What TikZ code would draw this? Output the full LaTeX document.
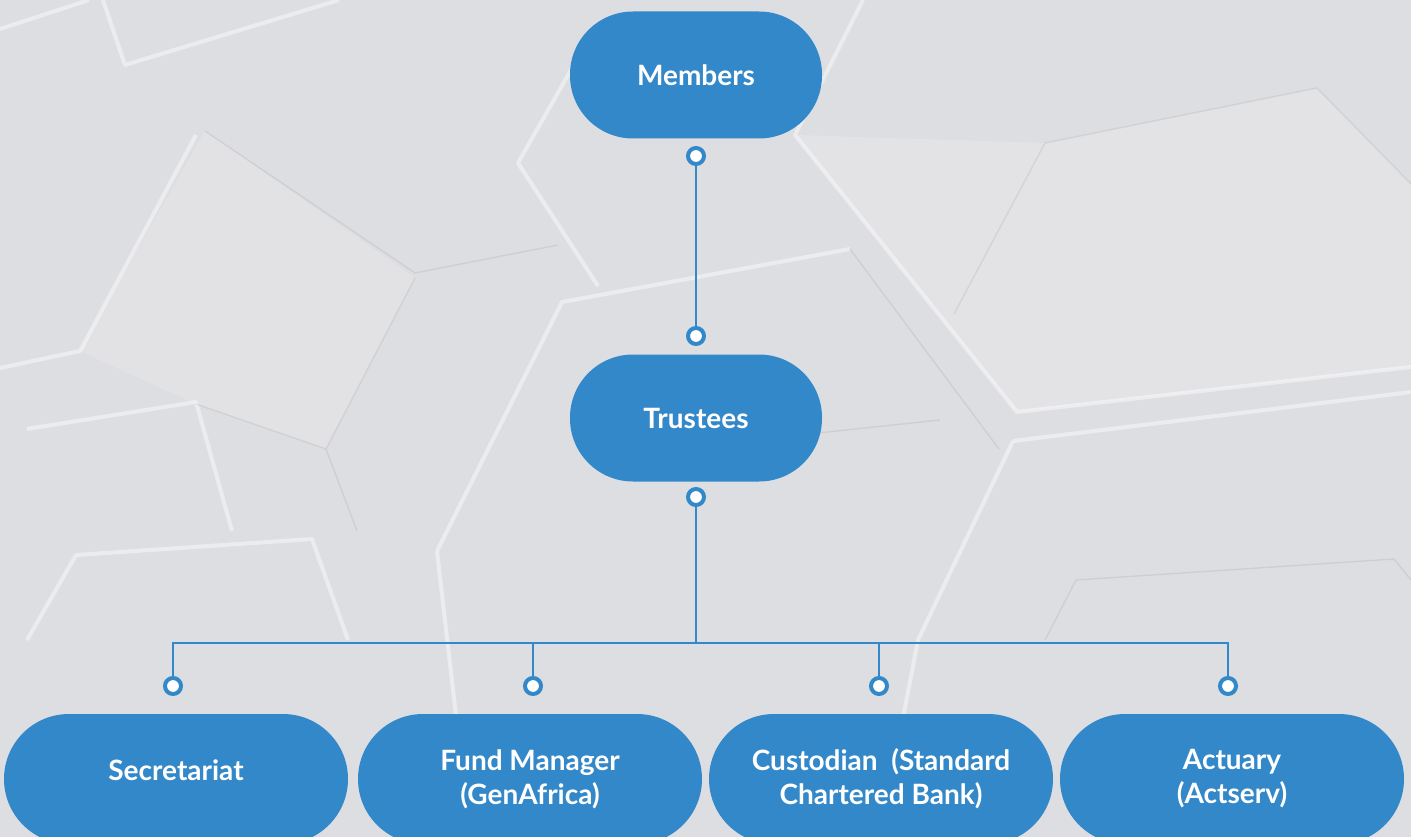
\documentclass[tikz,border=0pt]{standalone}
\usepackage{fontspec}
\usepackage{tikz}
\usepackage{xcolor}
\setmainfont{Lato}
\definecolor{nodeblue}{HTML}{3388C9}
\definecolor{wallgrey}{HTML}{DDDEE1}

\begin{document}
\begin{tikzpicture}[x=1pt,y=-1pt,
  box/.style={rectangle,rounded corners=63pt,fill=nodeblue,text=white,
    font=\fontsize{28}{34}\selectfont\bfseries,align=center,
    minimum width=252pt,minimum height=127pt,inner sep=0pt},
  unit/.style={box,rounded corners=65pt,minimum width=344pt,minimum height=130pt},
  dot/.style={circle,draw=nodeblue,line width=4pt,fill=white,minimum size=16pt,inner sep=0pt},
  link/.style={draw=nodeblue,line width=2.6pt},
  hexlight/.style={white,opacity=.45,line width=4pt,line join=round},
  hexdark/.style={black!50,opacity=.15,line width=1.4pt,line join=round}]
% wall
\fill[wallgrey] (0,0) rectangle (1411,837);
\useasboundingbox (0,0) rectangle (1411,837);
\scope
\fill[white,opacity=.18] (795,135) -- (1017,412) -- (1411,367) -- (1411,184) -- (1317,88) -- (1045,143) -- cycle;
\fill[white,opacity=.15] (196,404) -- (326,449) -- (415,278) -- (205,131) -- (80,351) -- cycle;
\draw[hexlight] (0,29) -- (89,0);
\draw[hexlight] (103,0) -- (125,65) -- (339,0);
\draw[hexlight] (0,368) -- (80,351) -- (196,135);
\draw[hexlight] (576,61) -- (518,163) -- (598,286);
\draw[hexlight] (27,429) -- (196,402) -- (232,531);
\draw[hexlight] (27,640) -- (76,555) -- (312,539) -- (348,640);
\draw[hexlight] (437,551) -- (562,302) -- (850,249);
\draw[hexlight] (863,0) -- (795,135) -- (1017,412) -- (1411,367);
\draw[hexlight] (1013,441) -- (1411,392);
\draw[hexlight] (1013,441) -- (918,640) -- (880,837);
\draw[hexlight] (470,837) -- (437,551);
\draw[hexdark] (205,131) -- (415,273) -- (558,245);
\draw[hexdark] (415,278) -- (326,449) -- (196,404);
\draw[hexdark] (326,449) -- (357,531);
\draw[hexdark] (954,314) -- (1045,143) -- (1317,88) -- (1411,184);
\draw[hexdark] (850,249) -- (999,449);
\draw[hexdark] (818,433) -- (940,420);
\draw[hexdark] (1045,640) -- (1076,580) -- (1394,559) -- (1411,580);
\endscope
% chart
\node[box] (members) at (696,75) {Members};
\node[box] (trustees) at (696,418) {Trustees};
\node[dot] (membersout) at (696,156) {};
\node[dot] (trusteesin) at (696,336) {};
\node[dot] (trusteesout) at (696,497) {};
\coordinate (bus) at (696,643);
\node[unit,text depth=18pt] (secretariat) at (176,779) {Secretariat};
\node[unit] (fundmanager) at (530,779) {Fund Manager\\(GenAfrica)};
\node[unit] (custodian) at (881,779) {Custodian\ \ (Standard\\Chartered Bank)};
\node[unit] (actuary) at (1232,779) {Actuary\\(Actserv)};
\node[dot] (secretariatin) at (173,686) {};
\node[dot] (fundmanagerin) at (533,686) {};
\node[dot] (custodianin) at (879,686) {};
\node[dot] (actuaryin) at (1228,686) {};
% links
\draw[link] (membersout) -- (trusteesin);
\draw[link] (trusteesout) -- (bus);
\draw[link] (bus) -| (secretariatin);
\draw[link] (bus) -| (fundmanagerin);
\draw[link] (bus) -| (custodianin);
\draw[link] (bus) -| (actuaryin);
\end{tikzpicture}
\end{document}
